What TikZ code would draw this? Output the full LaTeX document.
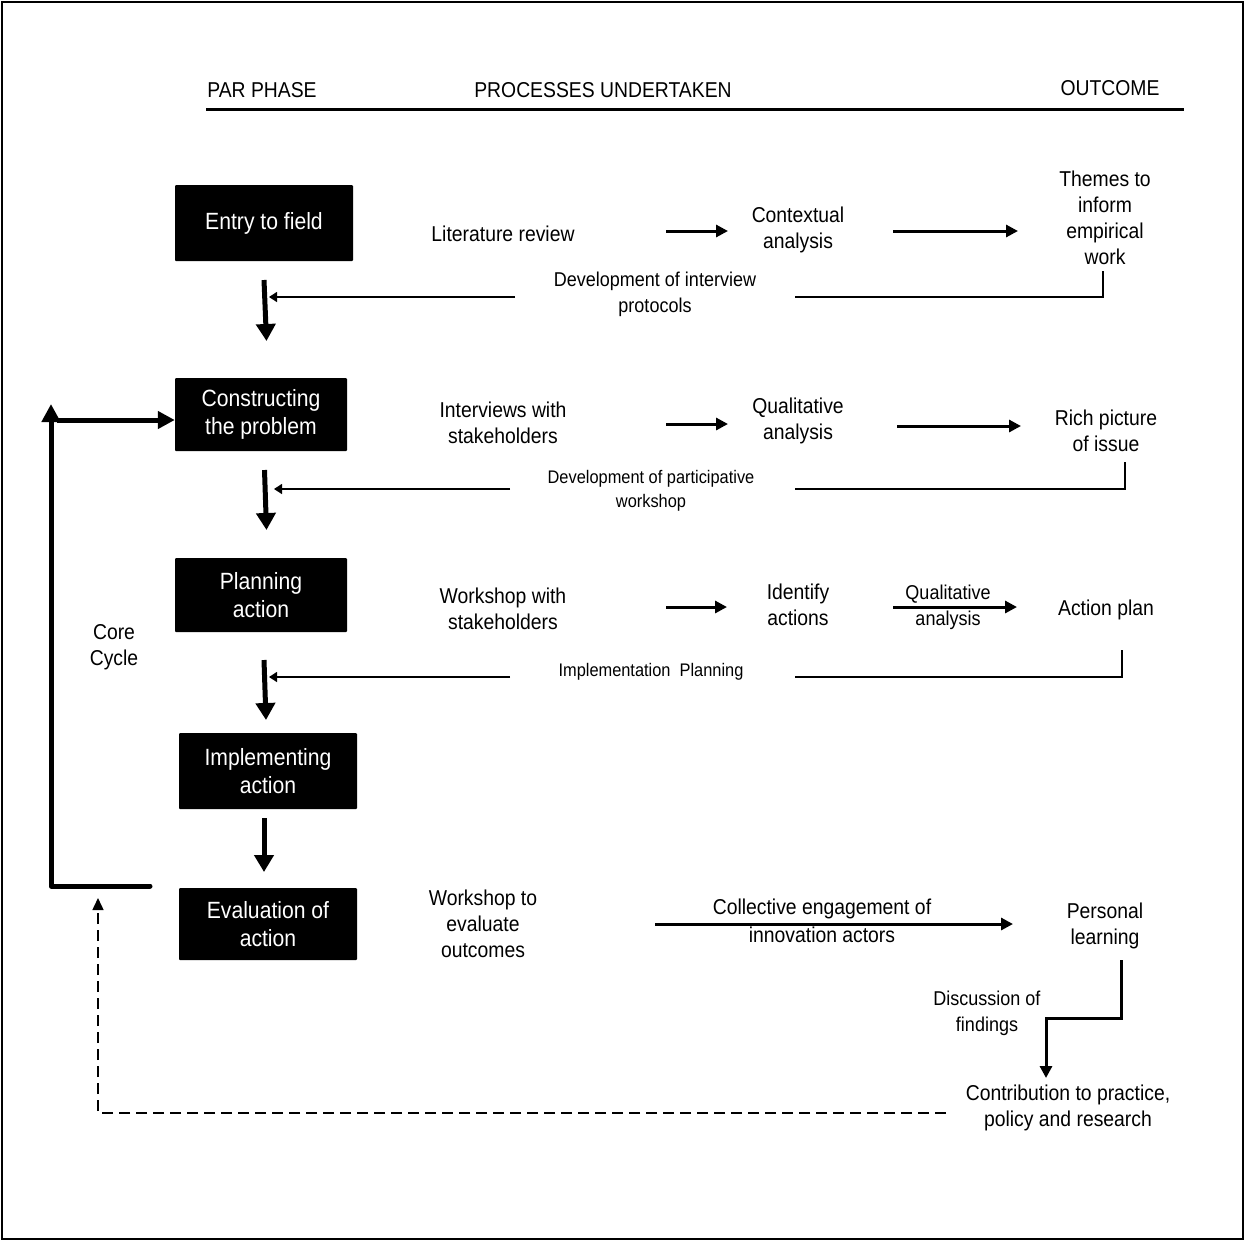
\documentclass[tikz,border=0pt]{standalone}
\usepackage{fontspec}
\setmainfont[FakeStretch=0.9]{Liberation Sans}
\usetikzlibrary{arrows.meta}
\begin{document}
\begin{tikzpicture}[x=1pt,y=-1pt,
  txt/.style={align=center, inner sep=0pt, font=\fontsize{21.5}{26}\selectfont},
  smalltxt/.style={align=center, inner sep=0pt, font=\fontsize{20}{26}\selectfont},
  tinytxt/.style={align=center, inner sep=0pt, font=\fontsize{18.2}{24}\selectfont},
  phase/.style={fill=black, text=white, align=center, inner sep=0pt, rounded corners=1pt,
    font=\fontsize{23.5}{28}\selectfont},
  bigarrow/.style={line width=5pt, -{Triangle[length=17pt,width=19pt]}},
  flow/.style={line width=3pt, -{Triangle[length=12pt,width=12pt]}},
  feed/.style={line width=1.3pt},
  feedarrow/.style={feed, -{Triangle[length=8pt,width=10pt]}},
]
\useasboundingbox (0,0) rectangle (1244,1240);
\draw[line width=2pt] (1.5,1.5) rectangle (1242.5,1238.5);

% header
\node[txt, anchor=base] (hpar) at (262,97) {PAR PHASE};
\node[txt, anchor=base] (hproc) at (603,97) {PROCESSES UNDERTAKEN};
\node[txt, anchor=base] (hout) at (1110,95) {OUTCOME};
\coordinate (rulel) at (206,109);
\coordinate (ruler) at (1184,109);
\draw[line width=3pt] (rulel) -- (ruler);

% PAR phases
\node[phase, minimum width=178pt, minimum height=76pt] (b1) at (264,223) {Entry to field};
\node[phase, minimum width=172pt, minimum height=73pt] (b2) at (261,414.5) {Constructing\\the problem};
\node[phase, minimum width=172pt, minimum height=74pt] (b3) at (261,595) {Planning\\action};
\node[phase, minimum width=178pt, minimum height=76pt] (b4) at (268,771) {Implementing\\action};
\node[phase, minimum width=178pt, minimum height=72pt] (b5) at (268,924) {Evaluation of\\action};

% arrows between phases
\coordinate (d1s) at (264,280); \coordinate (d1e) at (266.5,341);
\coordinate (d2s) at (264.5,470); \coordinate (d2e) at (266.5,530);
\coordinate (d3s) at (264,660); \coordinate (d3e) at (266,720);
\coordinate (d4s) at (264,818); \coordinate (d4e) at (264,872);
\draw[bigarrow] (d1s) -- (d1e);
\draw[bigarrow] (d2s) -- (d2e);
\draw[bigarrow] (d3s) -- (d3e);
\draw[bigarrow] (d4s) -- (d4e);

% core cycle loop
\coordinate (cyc1) at (150,886);
\coordinate (cyc2) at (51,886);
\coordinate (cyc3) at (51,404);
\draw[line width=5pt, line join=round, line cap=round, -{Triangle[length=18pt,width=18pt]}]
  (cyc1) -- (cyc2) -- (cyc3);
\coordinate (cyc4) at (57,420);
\draw[line width=5pt, -{Triangle[length=17pt,width=17pt]}] (cyc4) -- (b2.west |- cyc4);
\node[txt] (core) at (114,647) {Core\\Cycle};

% row 1
\node[txt] (lit) at (503,234) {Literature review};
\node[txt] (ctx) at (798,230) {Contextual\\analysis};
\node[txt] (themes) at (1105,218) {Themes to\\inform\\empirical\\work};
\coordinate (r1a) at (666,231); \coordinate (r1b) at (728,231);
\coordinate (r1c) at (893,231); \coordinate (r1d) at (1018,231);
\draw[flow] (r1a) -- (r1b);
\draw[flow] (r1c) -- (r1d);
\node[smalltxt] (dev1) at (655,294) {Development of interview\\protocols};
\coordinate (f1a) at (795,297); \coordinate (f1b) at (1103,297); \coordinate (f1c) at (1103,271);
\draw[feed] (f1a) -- (f1b) -- (f1c);
\coordinate (f1d) at (515,297); \coordinate (f1e) at (269,297);
\draw[feedarrow] (f1d) -- (f1e);

% row 2
\node[txt] (intv) at (503,423) {Interviews with\\stakeholders};
\node[txt] (qual) at (798,421) {Qualitative\\analysis};
\node[txt] (rich) at (1106,431) {Rich picture\\of issue};
\coordinate (r2a) at (666,424); \coordinate (r2b) at (728,424);
\coordinate (r2c) at (897,426); \coordinate (r2d) at (1021,426);
\draw[flow] (r2a) -- (r2b);
\draw[flow] (r2c) -- (r2d);
\node[tinytxt] (dev2) at (651,491) {Development of participative\\workshop};
\coordinate (f2a) at (795,489); \coordinate (f2b) at (1125,489); \coordinate (f2c) at (1125,462);
\draw[feed] (f2a) -- (f2b) -- (f2c);
\coordinate (f2d) at (510,489); \coordinate (f2e) at (274,489);
\draw[feedarrow] (f2d) -- (f2e);

% row 3
\node[txt] (wks) at (503,609) {Workshop with\\stakeholders};
\node[txt] (ident) at (798,605) {Identify\\actions};
\node[txt] (plan) at (1106,610) {Action plan};
\coordinate (r3a) at (666,607); \coordinate (r3b) at (727,607);
\coordinate (r3c) at (893,607); \coordinate (r3d) at (1017,607);
\draw[flow] (r3a) -- (r3b);
\draw[flow] (r3c) -- (r3d);
\node[smalltxt] (qa1) at (948,594) {Qualitative};
\node[smalltxt] (qa2) at (948,620) {analysis};
\node[tinytxt] (impl) at (651,672) {Implementation\ \ Planning};
\coordinate (f3a) at (795,677); \coordinate (f3b) at (1122,677); \coordinate (f3c) at (1122,650);
\draw[feed] (f3a) -- (f3b) -- (f3c);
\coordinate (f3d) at (510,677); \coordinate (f3e) at (269,677);
\draw[feedarrow] (f3d) -- (f3e);

% row 5
\node[txt] (wkeval) at (483,924) {Workshop to\\evaluate\\outcomes};
\node[txt] (pers) at (1105,926) {Personal\\learning};
\coordinate (r5a) at (655,924); \coordinate (r5b) at (1013,924);
\draw[flow] (r5a) -- (r5b);
\node[txt] (coll1) at (822,909) {Collective engagement of};
\node[txt] (coll2) at (822,935) {innovation actors};

% discussion and contribution
\node[txt] (contrib) at (1068,1108) {Contribution to practice,\\policy and research};
\node[smalltxt] (disc) at (987,1013) {Discussion of\\findings};
\coordinate (s1) at (1121,960); \coordinate (s2) at (1121,1018);
\coordinate (s3) at (1046,1018); \coordinate (s4) at (1046,1078);
\draw[flow, line join=miter] (s1) -- (s2) -- (s3) -- (s4);

% feedback to the next cycle
\coordinate (dsh1) at (946,1113); \coordinate (dsh2) at (98,1113); \coordinate (dsh3) at (98,898);
\draw[line width=1.5pt, dash pattern=on 11pt off 6pt, -{Triangle[length=12pt,width=11pt]}]
  (dsh1) -- (dsh2) -- (dsh3);
\end{tikzpicture}
\end{document}
